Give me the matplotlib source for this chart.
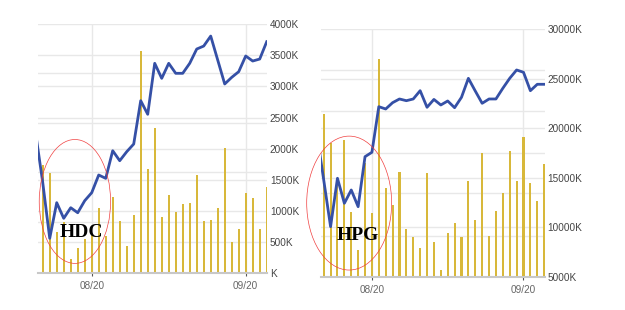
import matplotlib
matplotlib.use('Agg')
import matplotlib.pyplot as plt
from matplotlib.patches import Ellipse

# ---------------- HDC ----------------
hdc_vol = [1735, 1605, 660, 822, 216, 393, 550, 600, 1047, 591, 1224, 832, 435, 929,
           3576, 1670, 2336, 902, 1252, 977, 1106, 1128, 1574, 832, 848, 1047,
           2013, 500, 703, 1284, 1208, 703, 1385]
# price line, read against the volume axis (index -1 is the day before, clipped)
hdc_price = [2241, 1454, 554, 1128, 876, 1047, 966, 1160, 1289, 1574, 1520, 1965, 1804,
             1949, 2073, 2771, 2552, 3373, 3131, 3373, 3212, 3212, 3373, 3603, 3651,
             3812, 3426, 3040, 3147, 3238, 3491, 3410, 3442, 3721]
hdc_yticks = [0, 500, 1000, 1500, 2000, 2500, 3000, 3500, 4000]
hdc_pgrid = [822, 1617, 2407, 3212]

# ---------------- HPG ----------------
hpg_vol = [21431, 18500, 14778, 18810, 11583, 7722, 16500, 11421, 26945, 13940, 12258,
           15585, 9839, 9066, 7957, 15450, 8558, 5706, 9402, 10410, 9066, 14677,
           10746, 17466, 9167, 11653, 13434, 17702, 14677, 19146, 14442, 12661, 16356]
hpg_price = [19500, 14800, 10070, 14950, 12429, 13770, 12087, 17127, 17571, 22167,
             21935, 22571, 22944, 22772, 22944, 23780, 22107, 22900, 22339, 22742,
             22066, 23112, 25027, 23750, 22508, 22944, 22944, 24022, 25027, 25867,
             25635, 23780, 24425, 24425]
hpg_yticks = [5000, 10000, 15000, 20000, 25000, 30000]
hpg_pgrid = [9133, 13438, 17470, 21764, 25867]

date_pos = [7, 29]
date_lbl = ['08/20', '09/20']

LINE = '#3550a6'
BAR = '#d8b83a'
GRID = '#e8e8e8'
TXT = '#444444'

fig = plt.figure(figsize=(6.25, 3.1), dpi=100)


def draw(ax, vol, price, yticks, pgrid, xlim, name, ell, name_xy):
    ax.set_facecolor('white')
    for y in yticks:
        ax.axhline(y, color=GRID, lw=1.0, zorder=0)
    for y in pgrid:
        ax.axhline(y, color=GRID, lw=1.0, zorder=0)
    for x in date_pos:
        ax.axvline(x, color=GRID, lw=1.0, zorder=0)
    ax.bar(range(len(vol)), vol, width=0.3, color=BAR, zorder=2, linewidth=0)
    ax.plot(range(-1, len(price) - 1), price, color=LINE, lw=2.0, zorder=3,
            solid_joinstyle='round')
    ax.set_xlim(*xlim)
    ax.set_ylim(yticks[0], yticks[-1])
    ax.yaxis.tick_right()
    ax.set_yticks(yticks)
    ax.set_yticklabels([f'{v}K' if v else 'K' for v in yticks],
                       fontsize=7.2, color=TXT, family='Liberation Sans')
    ax.tick_params(axis='y', length=0, pad=2)
    ax.set_xticks(date_pos)
    ax.set_xticklabels(date_lbl, fontsize=7.2, color='#666666', family='Liberation Sans')
    ax.tick_params(axis='x', length=2, width=0.8, color='#555555', pad=4)
    for s in ['top', 'left', 'right']:
        ax.spines[s].set_visible(False)
    ax.spines['bottom'].set_color('#c8c8c8')
    ax.spines['bottom'].set_linewidth(1.5)
    e = Ellipse((ell[0], ell[1]), ell[2], ell[3], transform=ax.transAxes,
                fill=False, edgecolor='#f04040', lw=0.5, zorder=5, clip_on=False)
    ax.add_patch(e)
    ax.text(name_xy[0], name_xy[1], name, transform=ax.transAxes, fontsize=14,
            fontweight='bold', family='Liberation Serif', color='black',
            ha='center', va='center', zorder=6)


ax1 = fig.add_axes([0.0613, 0.1203, 0.366, 0.801])
draw(ax1, hdc_vol, hdc_price, hdc_yticks, hdc_pgrid, (-0.63, 32.05), 'HDC',
     (0.160, 0.287, 0.312, 0.499), (0.190, 0.160))

ax2 = fig.add_axes([0.5136, 0.1065, 0.3576, 0.80])
draw(ax2, hpg_vol, hpg_price, hpg_yticks, hpg_pgrid, (-0.39, 32.05), 'HPG',
     (0.126, 0.298, 0.380, 0.540), (0.165, 0.167))

fig.savefig('out.png', dpi=100, facecolor='white')
